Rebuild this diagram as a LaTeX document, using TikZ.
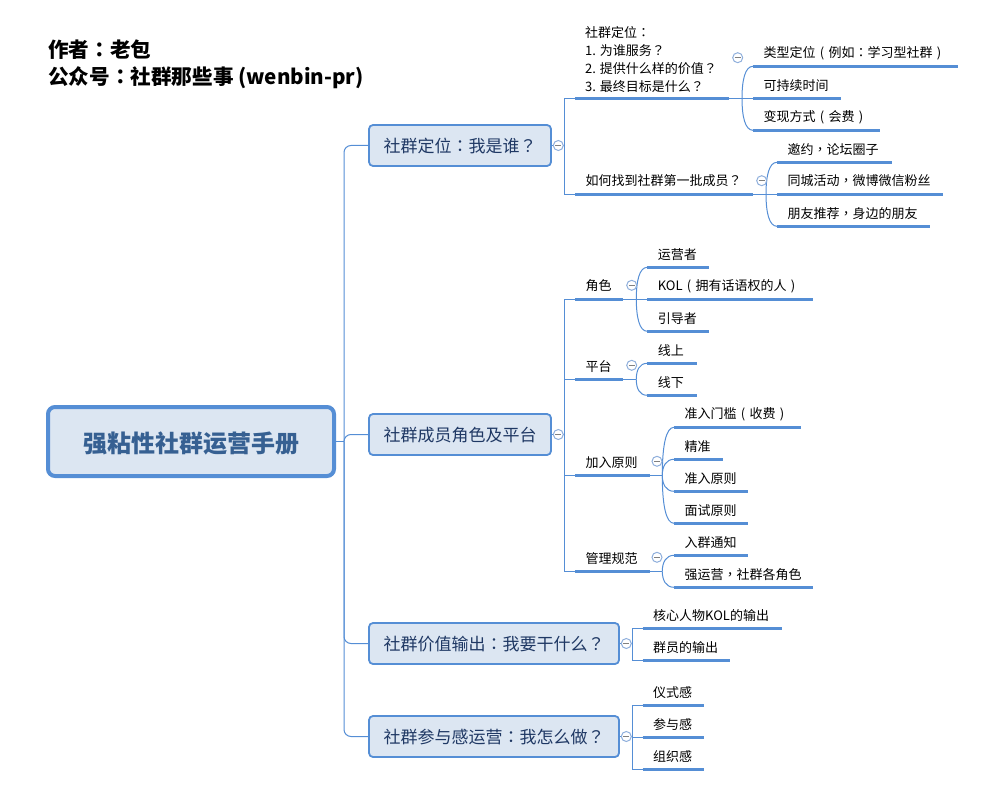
\documentclass[tikz,border=0pt]{standalone}
\usepackage{fontspec}
\setmainfont{Noto Sans CJK SC}
\newfontfamily\punctfont{Noto Sans CJK TC}
\newcommand{\pq}{{\punctfont ？}}
\newcommand{\pc}{{\punctfont ：}}
\newcommand{\pk}{{\punctfont ，}}
\newcommand{\pl}{\makebox[1em][c]{(}}
\newcommand{\pr}{\makebox[1em][c]{)}}
\definecolor{mapline}{HTML}{558ED5}
\definecolor{mapfill}{HTML}{DCE6F2}
\definecolor{mapdark}{HTML}{1F3864}
\definecolor{maproot}{HTML}{366092}
\definecolor{mapring}{HTML}{8FAFDC}
\tikzset{
  rootbox/.style={draw=mapline, fill=mapfill, line width=4pt, rounded corners=7pt, outer sep=0pt,
    minimum width=286pt, minimum height=69pt, text=maproot, text height=24pt, text depth=2.8pt,
    font=\fontsize{24}{28}\selectfont\bfseries},
  topicbox/.style={draw=mapline, fill=mapfill, line width=1.8pt, rounded corners=4pt, outer sep=0pt,
    minimum height=41pt, text=mapdark, text height=16pt, text depth=2pt, font=\fontsize{17}{20}\selectfont},
  leafbox/.style={anchor=south west, inner xsep=10.5pt, inner ysep=0pt, outer sep=0pt, minimum height=26pt,
    align=left, font=\fontsize{13}{18}\selectfont},
  ring/.style={circle, draw=mapring, fill=white, line width=1pt, minimum size=10pt, inner sep=0pt,
    path picture={\draw[gray, line width=0.8pt] ([xshift=-3pt]path picture bounding box.center) -- ([xshift=3pt]path picture bounding box.center);}},
  conn/.style={draw=mapline, line width=1pt},
  bar/.style={draw=mapline, line width=3pt},
}
\begin{document}
\begin{tikzpicture}[x=1pt,y=-1pt]
  \useasboundingbox (0,0) rectangle (991,797);
  \node[anchor=north west, inner sep=0pt, align=left, font=\fontsize{20.6}{27}\selectfont\bfseries] (title) at (48,39.5)
    {作者\pc 老包\\公众号\pc 社群那些事 (wenbin-pr)};
  \node[rootbox] (root) at (191,441.5) {强粘性社群运营手册};
  \node[topicbox, minimum width=182pt] (pos) at (460,145.5) {社群定位\pc 我是谁\pq};
  \node[topicbox, minimum width=182pt] (role) at (460,434.5) {社群成员角色及平台};
  \node[topicbox, minimum width=250pt] (value) at (494,643.5) {社群价值输出\pc 我要干什么\pq};
  \node[topicbox, minimum width=250pt] (join) at (494,736.5) {社群参与感运营\pc 我怎么做\pq};
  % trunk
  \coordinate (trunk) at (344,441.5);
  \draw[conn] (root.east) -- (trunk);
  \foreach \t in {pos,role,value,join}
    \draw[conn, rounded corners=7pt] (trunk) |- (\t.west);
  % brackets, free ends of the bars
  \coordinate (bpos) at (564.3,145.5);
  \coordinate (brole) at (564.3,434.5);
  \coordinate (bvalue) at (632.3,643.5);
  \coordinate (bjoin) at (632.3,736.5);
  \foreach \n/\xa/\xb/\ya/\txt in {
    who/575/729/98.3/{},
    first/575/753/194/{如何找到社群第一批成员\pq},
    actor/575/623.3/299/角色,
    plat/575/623.3/379.3/平台,
    rule/575/649.5/475.3/加入原则,
    norm/575/649.5/571.3/管理规范,
    type/753/958/66.3/{类型定位\pl 例如\pc 学习型社群\pr},
    time/753/841/98.3/可持续时间,
    cash/753/880/130.3/{变现方式\pl 会费\pr},
    invite/777/891.7/162.3/{邀约\pk 论坛圈子},
    city/777/943/194/{同城活动\pk 微博微信粉丝},
    friend/777/930/226.3/{朋友推荐\pk 身边的朋友},
    oper/647.3/709.3/267.3/运营者,
    kol/647.3/813.3/299/{KOL\pl 拥有话语权的人\pr},
    guide/647.3/709.3/331.3/引导者,
    online/647.3/696.7/363.3/线上,
    offline/647.3/696.7/395.3/线下,
    gate/674/800.7/427.3/{准入门槛\pl 收费\pr},
    exact/674/722.7/459.3/精准,
    admit/674/748.3/491.3/准入原则,
    exam/674/748.3/523.3/面试原则,
    notice/674/748.3/555.3/入群通知,
    strong/674/813.3/587.3/{强运营\pk 社群各角色},
    core/642.7/782.3/628.3/核心人物KOL的输出,
    member/642.7/730.3/660.3/群员的输出,
    rite/642.7/704.3/705.3/仪式感,
    part/642.7/704.3/737.3/参与感,
    org/642.7/704.3/769.3/组织感}
  {
    \pgfmathsetmacro\tw{\xb-\xa-21}
    \node[leafbox, text width=\tw pt] (\n) at (\xa,\ya) {\txt};
  }
  \node[anchor=south west, inner sep=0pt, align=left, font=\fontsize{13}{17.7}\selectfont] (whotext) at (585,92.3)
    {社群定位\pc\\1. 为谁服务\pq\\2. 提供什么样的价值\pq\\3. 最终目标是什么\pq};
  % fan points
  \coordinate (fwho) at (742,98.3);
  \coordinate (ffirst) at (766,194);
  \coordinate (factor) at (636.3,299);
  \coordinate (fplat) at (636.3,379.3);
  \coordinate (frule) at (662.3,475.3);
  \coordinate (fnorm) at (662.3,571.3);
  % stems
  \foreach \a/\b in {pos/bpos,role/brole,value/bvalue,join/bjoin}
    \draw[conn] (\a.east) -- (\b);
  \foreach \b/\n in {bpos/who,bpos/first,brole/actor,brole/plat,brole/rule,brole/norm,bvalue/core,bvalue/member,bjoin/rite,bjoin/part,bjoin/org}
    \draw[conn] (\b) |- (\n.south west);
  \foreach \n/\m in {who/time,first/city,actor/kol}
    \draw[conn] (\n.south east) -- (\m.south west);
  \foreach \n/\f in {plat/fplat,rule/frule,norm/fnorm}
    \draw[conn] (\n.south east) -- (\f);
  % fans
  \foreach \f/\n/\d in {fwho/type/-18,fwho/cash/18,ffirst/invite/-18,ffirst/friend/18,factor/oper/-18,factor/guide/18,
      fplat/online/-9,fplat/offline/9,frule/gate/-30,frule/exact/-9,frule/admit/9,frule/exam/30,fnorm/notice/-9,fnorm/strong/9}
    \draw[conn] (\f) .. controls +(0,\d) and +(-8,0) .. (\n.south west);
  % underlines
  \foreach \n in {who,first,actor,plat,rule,norm,type,time,cash,invite,city,friend,oper,kol,guide,online,offline,
      gate,exact,admit,exam,notice,strong,core,member,rite,part,org}
    \draw[bar] (\n.south west) -- (\n.south east);
  % collapse marks
  \foreach \n/\x/\y in {rpos/558.3/145.5,rrole/558.3/434.5,rvalue/626.3/643.5,rjoin/626.3/736.5,
      rwho/737.7/57.7,rfirst/761.7/180.7,ractor/631.7/285.3,rplat/631.7/365.3,rrule/657/461.3,rnorm/657/557.3}
    \node[ring] (\n) at (\x,\y) {};
\end{tikzpicture}
\end{document}
